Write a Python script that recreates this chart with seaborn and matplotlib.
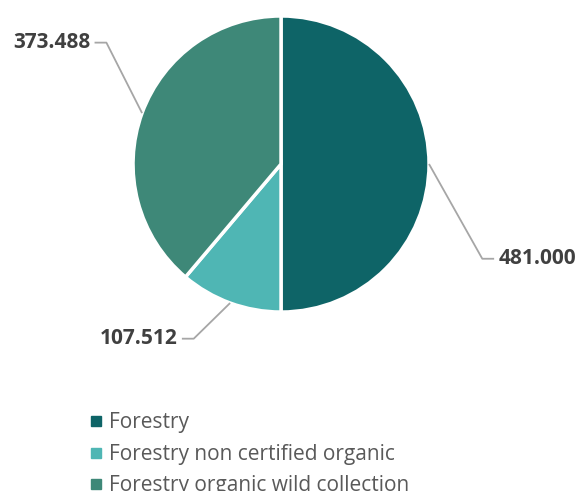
import numpy as np
import matplotlib
matplotlib.use("Agg")
import matplotlib.pyplot as plt
from matplotlib.lines import Line2D
import seaborn as sns

# chart data
categories = ["Forestry", "Forestry non certified organic", "Forestry organic wild collection"]
values = [481.000, 107.512, 373.488]
value_labels = ["481.000", "107.512", "373.488"]
colors = ["#0e6467", "#4fb6b4", "#3e8878"]

sns.set_theme(style="white")
plt.rcParams['font.family'] = ['Open Sans', 'DejaVu Sans']

fig = plt.figure(figsize=(5.81, 4.91), dpi=100)
ax = fig.add_axes([0, 0, 1, 1])

wedges, _ = ax.pie(values, colors=colors, startangle=90, counterclock=False,
                   wedgeprops=dict(edgecolor="white", linewidth=2.5), radius=1.0)

ax.set_xlim(-1.899, 2.027)
ax.set_ylim(-2.209, 1.108)
ax.set_aspect("auto")
ax.axis("off")

# leader lines to the value labels
elbows = [(1.36, -0.64), (-0.59, -1.18), (-1.18, 0.82)]
for w, lab, (ex, ey) in zip(wedges, value_labels, elbows):
    ang = np.deg2rad((w.theta1 + w.theta2) / 2)
    px, py = np.cos(ang), np.sin(ang)
    side = 1 if ex > 0 else -1
    hx = ex + side * 0.08
    ax.plot([px, ex, hx], [py, ey, ey], color="#a6a6a6", lw=1.3, solid_capstyle="butt")
    ax.text(hx + side * 0.03, ey, lab, ha="left" if side > 0 else "right", va="center",
            fontsize=15, fontweight="bold", color="#404040")

handles = [Line2D([], [], marker="s", linestyle="none", markersize=6.5,
                  markerfacecolor=c, markeredgecolor=c) for c in colors]
fig.legend(handles, categories, loc="upper left", bbox_to_anchor=(0.157, 0.160),
           frameon=False, fontsize=15, labelcolor="#595959", handlelength=0.5,
           handletextpad=0.37, labelspacing=0.5, borderaxespad=0, borderpad=0)

fig.savefig("out.png", dpi=100)
